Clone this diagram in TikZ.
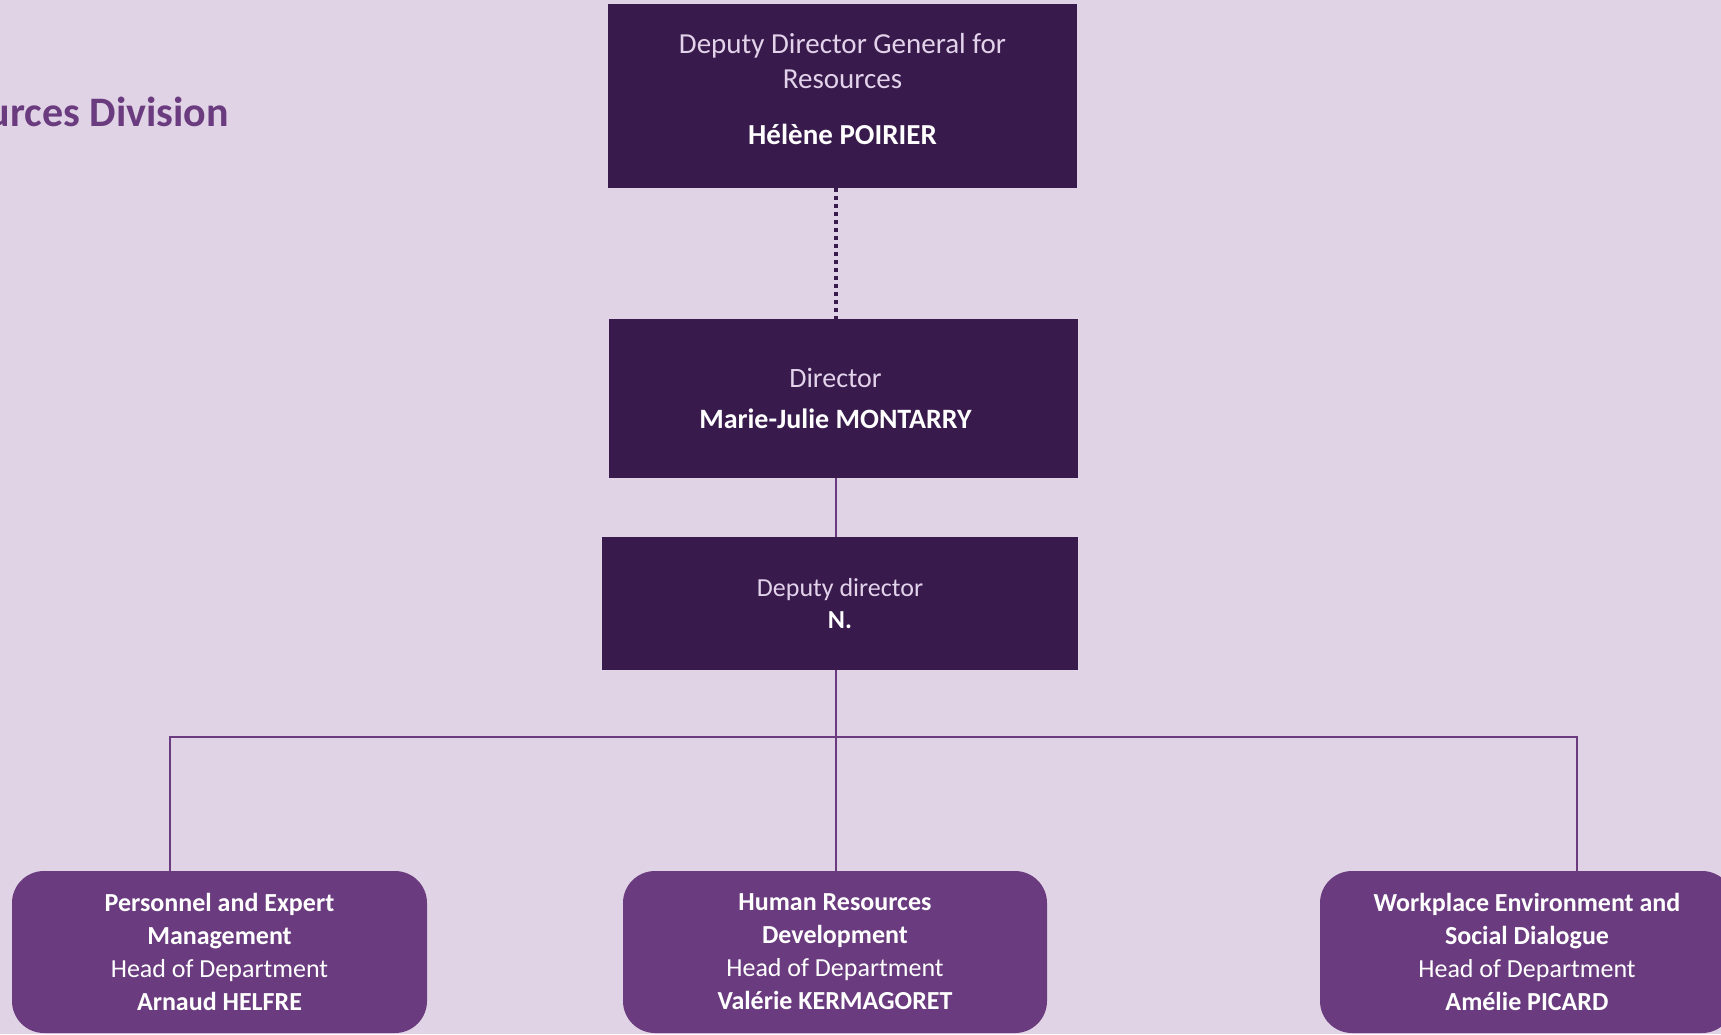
\documentclass[tikz,border=0pt]{standalone}
\usepackage{fontspec}
\setmainfont{Carlito}
\usetikzlibrary{positioning}
\definecolor{bgpurple}{HTML}{E1D3E6}
\definecolor{darkplum}{HTML}{381A4C}
\definecolor{plum}{HTML}{6A3B7E}
\definecolor{softtext}{HTML}{E2D2EA}

\begin{document}
\begin{tikzpicture}[x=1pt, y=-1pt, inner sep=0, outer sep=0,
  leadbox/.style={rectangle, fill=darkplum},
  leadtext/.style={align=center, text=softtext},
  deptbox/.style={rectangle, rounded corners=32pt, fill=plum, align=center, text=white,
    minimum height=162pt, font=\fontsize{26}{33}\selectfont},
  link/.style={draw=plum, line width=2pt},
  dotlink/.style={draw=darkplum, line width=3.5pt, dash pattern=on 3.5pt off 4.5pt}]
  \useasboundingbox (0, 0) rectangle (1721, 1034);
  \clip (0, 0) rectangle (1721, 1034);
  \fill[bgpurple] (0, 0) rectangle (1721, 1034);

  \node[anchor=base east, text=plum, font=\fontsize{42}{50}\selectfont\bfseries] (division) at (229, 126) {urces Division};

  % management
  \node[leadbox, minimum width=469pt, minimum height=184pt] (dgr) at (842.5, 96) {};
  \node[leadtext, font=\fontsize{29}{35}\selectfont] (dgrtext) at ([yshift=6.6pt]dgr.center)
    {Deputy Director General for\\Resources\\[21pt]{\bfseries\color{white}Hélène POIRIER}};
  \node[leadbox, minimum width=469pt, minimum height=159pt] (dir) at (843.5, 398.5) {};
  \node[leadtext, font=\fontsize{28}{41}\selectfont] (dirtext) at ([xshift=-8pt]dir.center)
    {Director\\{\bfseries\color{white}Marie-Julie MONTARRY}};
  \node[leadbox, minimum width=476pt, minimum height=133pt] (dep) at (840, 603.5) {};
  \node[leadtext, font=\fontsize{26}{32}\selectfont] (deptext) at (dep.center)
    {Deputy director\\{\bfseries\color{white}N.}};

  % departments
  \node[deptbox, minimum width=415pt] (pem) at (219.5, 952)
    {{\bfseries Personnel and Expert}\\{\bfseries Management}\\Head of Department\\{\bfseries Arnaud HELFRE}};
  \node[deptbox, minimum width=424pt] (hrd) at (835, 952)
    {{\bfseries Human Resources}\\{\bfseries Development}\\Head of Department\\{\bfseries Valérie KERMAGORET}};
  \node[deptbox, minimum width=414pt] (wesd) at (1527, 952)
    {{\bfseries Workplace Environment and}\\{\bfseries Social Dialogue}\\Head of Department\\{\bfseries Amélie PICARD}};

  \coordinate (spine) at (836, 737);
  \coordinate (pemport) at ([xshift=-50pt]pem.north);
  \coordinate (wesdport) at ([xshift=50pt]wesd.north);

  \draw[dotlink] (dgr.south -| spine) -- (dir.north -| spine);
  \draw[link] (dir.south -| spine) -- (dep.north -| spine);
  \draw[link] (dep.south -| spine) -- (spine |- hrd.north);
  \draw[link] (pemport) |- (spine) -| (wesdport);
\end{tikzpicture}
\end{document}
